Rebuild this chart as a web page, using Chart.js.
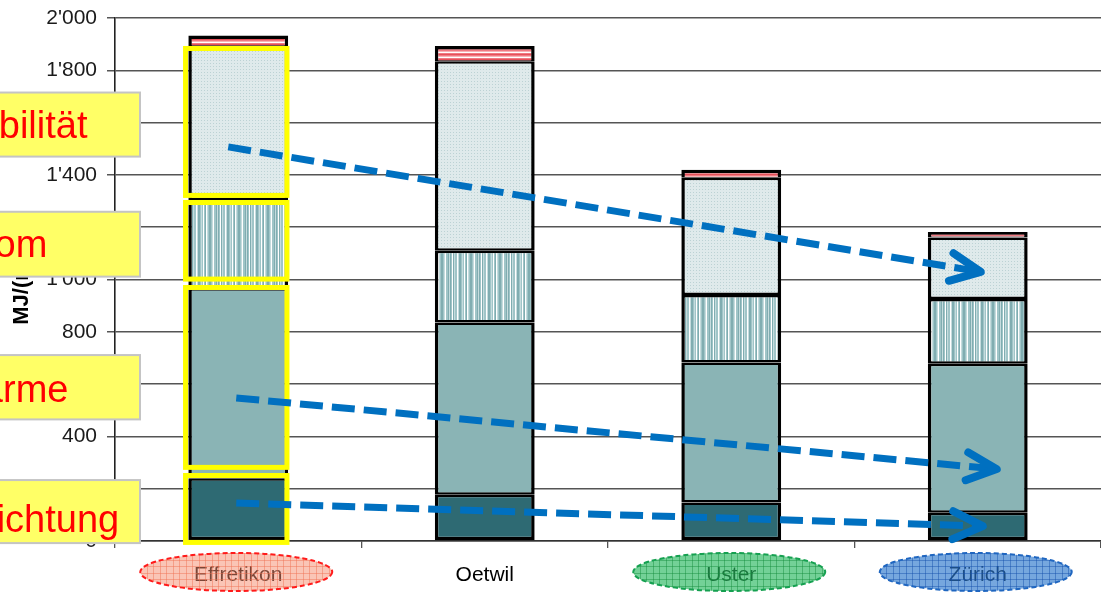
<!DOCTYPE html>
<html><head><meta charset="utf-8">
<script src="https://cdn.jsdelivr.net/npm/chart.js@4.4.1/dist/chart.umd.min.js"></script>
<style>html,body{margin:0;padding:0;background:#fff;overflow:hidden}#wrap{width:1101px;height:592px;position:relative}</style>
</head><body><div id="wrap"><canvas id="c" width="1101" height="592"></canvas></div>
<script>
// ---- data ----
const categories = ["Effretikon", "Oetwil", "Uster", "Zürich"];
const errichtung = [240, 177, 147, 108];
const waerme     = [727, 659, 536, 570];
const strom      = [337, 274, 258, 247];
const mobilitaet = [589, 725, 448, 236];
const uebrige    = [40, 58, 31, 21];
const seriesNames = ["Errichtung", "Wärme", "Strom", "Mobilität", "Übrige"];
const yTickLabels = ["0", "200", "400", "600", "800", "1'000", "1'200", "1'400", "1'600", "1'800", "2'000"];
const yAxisTitle = "MJ/(m²a)";
const calloutLabels = ["Mobilität", "Strom", "Wärme", "Errichtung"];

// ---- decoration config (value units) ----
const calloutBoxes = [ // [top, bottom, baseline]
  [1715, 1470, 1540], [1259, 1011, 1087], [711, 465, 533], [233, -8, 36]
];
const highlightBoxes = [[1893, 1312], [1304, 992], [979, 272], [260, -15]];
const trendArrows = [ // [catFrom, dxFrom, vFrom, catTo, dxTo, vTo]
  [0, -10, 1507, 3, 3, 1029],
  [0, -2, 547, 3, 19, 275],
  [0, -2, 145, 3, 5, 57]
];
const ellipseStyles = [
  {i: 0, fill: 'rgba(245,140,110,0.5)', grid: 'rgba(240,110,80,0.45)', stroke: '#ff1a1a'},
  {i: 2, fill: 'rgba(40,185,95,0.65)', grid: 'rgba(20,140,60,0.45)', stroke: '#15a050'},
  {i: 3, fill: 'rgba(45,120,205,0.65)', grid: 'rgba(20,80,170,0.45)', stroke: '#1f66c0'}
];

// ---- patterns ----
function mkPattern(w, h, draw) {
  const c = document.createElement('canvas'); c.width = w; c.height = h;
  const g = c.getContext('2d'); draw(g);
  return document.getElementById('c').getContext('2d').createPattern(c, 'repeat');
}
const stromPat = mkPattern(29, 4, g => {
  const cols = {w: '#ffffff', a: '#a0c5c8', b: '#80adb1', c: '#c5dcde'};
  const s = "wabwcabbacwaabcbawbcaawcbbaca";
  for (let i = 0; i < s.length; i++) { g.fillStyle = cols[s[i]]; g.fillRect(i, 0, 1, 4); }
});
const mobPat = mkPattern(3, 3, g => {
  g.fillStyle = '#dfeaeb'; g.fillRect(0, 0, 3, 3);
  g.fillStyle = '#bcd2d4'; g.fillRect(0, 0, 1, 1);
});
const redPat = mkPattern(4, 5, g => {
  const rows = ['#f07a82', '#f7b2b6', '#ffffff', '#f07a82', '#e6505a'];
  rows.forEach((c, i) => { g.fillStyle = c; g.fillRect(0, i, 4, 1); });
});

const deco = {
  id: 'deco',
  afterDraw(chart) {
    const ctx = chart.ctx, xs = chart.scales.x, ys = chart.scales.y, ca = chart.chartArea;
    const bw = chart.getDatasetMeta(0).data[0].width;
    const cx0 = xs.getPixelForValue(0);
    ctx.save();
    ctx.strokeStyle = '#ffff00'; ctx.lineWidth = 5;
    highlightBoxes.forEach(([t, b]) => {
      const y1 = ys.getPixelForValue(t) + 2.5, y2 = ys.getPixelForValue(b) - 2.5;
      const x1 = cx0 - bw / 2 - 2.8, x2 = cx0 + bw / 2 - 1.2;
      ctx.strokeRect(x1, y1, x2 - x1, y2 - y1);
    });
    ctx.restore();
    ctx.save();
    calloutBoxes.forEach(([t, b, bl], k) => {
      const y1 = ys.getPixelForValue(t), y2 = ys.getPixelForValue(b);
      const xr = ca.left + 25;
      ctx.fillStyle = '#ffff66'; ctx.fillRect(-20, y1, xr + 20, y2 - y1);
      ctx.strokeStyle = '#c4c4c4'; ctx.lineWidth = 2; ctx.strokeRect(-20, y1, xr + 20, y2 - y1);
      ctx.fillStyle = '#ff0000'; ctx.font = '38px "Liberation Sans", Arial, sans-serif';
      ctx.textAlign = 'left'; ctx.textBaseline = 'alphabetic';
      ctx.fillText(calloutLabels[k], ca.left - 169, ys.getPixelForValue(bl));
    });
    ctx.restore();
    ctx.save();
    ctx.strokeStyle = '#0070c0';
    trendArrows.forEach(([i0, dx0, v0, i1, dx1, v1]) => {
      const x0 = xs.getPixelForValue(i0) + dx0, y0 = ys.getPixelForValue(v0);
      const x1 = xs.getPixelForValue(i1) + dx1, y1 = ys.getPixelForValue(v1);
      const ang = Math.atan2(y1 - y0, x1 - x0);
      ctx.lineWidth = 7; ctx.lineCap = 'butt'; ctx.setLineDash([23, 9]);
      ctx.beginPath(); ctx.moveTo(x0, y0);
      ctx.lineTo(x1 - 8 * Math.cos(ang), y1 - 8 * Math.sin(ang)); ctx.stroke();
      ctx.setLineDash([]); ctx.lineWidth = 8; ctx.lineCap = 'round'; ctx.lineJoin = 'round';
      const L = 33, a = 25 * Math.PI / 180;
      ctx.beginPath();
      ctx.moveTo(x1 - L * Math.cos(ang - a), y1 - L * Math.sin(ang - a));
      ctx.lineTo(x1, y1);
      ctx.lineTo(x1 - L * Math.cos(ang + a), y1 - L * Math.sin(ang + a));
      ctx.stroke();
    });
    ctx.restore();
    ellipseStyles.forEach(s => {
      const cx = xs.getPixelForValue(s.i) - 2, cy = 572, rx = 96, ry = 19;
      ctx.save();
      ctx.beginPath(); ctx.ellipse(cx, cy, rx, ry, 0, 0, Math.PI * 2);
      ctx.fillStyle = s.fill; ctx.fill();
      ctx.save(); ctx.clip();
      ctx.strokeStyle = s.grid; ctx.lineWidth = 1;
      ctx.beginPath();
      for (let x = cx - rx; x <= cx + rx; x += 6.5) { ctx.moveTo(Math.round(x) + 0.5, cy - ry); ctx.lineTo(Math.round(x) + 0.5, cy + ry); }
      for (let y = cy - ry; y <= cy + ry; y += 6.5) { ctx.moveTo(cx - rx, Math.round(y) + 0.5); ctx.lineTo(cx + rx, Math.round(y) + 0.5); }
      ctx.stroke();
      ctx.restore();
      ctx.beginPath(); ctx.ellipse(cx, cy, rx, ry, 0, 0, Math.PI * 2);
      ctx.setLineDash([5, 3]); ctx.lineWidth = 2; ctx.strokeStyle = s.stroke; ctx.stroke();
      ctx.restore();
    });
  }
};

const fills = ['#2e6a73', '#8ab4b5', stromPat, mobPat, redPat];
const seriesData = [errichtung, waerme, strom, mobilitaet, uebrige];
const borders = [
  {top: 2.5, bottom: 3.5, left: 3.5, right: 3.5},
  {top: 2.5, bottom: 2.5, left: 3.5, right: 3.5},
  {top: 2.5, bottom: 2.5, left: 3.5, right: 3.5},
  {top: 2.5, bottom: 2.5, left: 3.5, right: 3.5},
  {top: 3.5, bottom: 0.8, left: 3.5, right: 3.5}
];

new Chart(document.getElementById('c'), {
  type: 'bar',
  data: {
    labels: categories,
    datasets: seriesData.map((d, i) => ({
      label: seriesNames[i], data: d, backgroundColor: fills[i],
      borderColor: '#000', borderWidth: borders[i], borderSkipped: false,
      categoryPercentage: 1, barPercentage: 0.405
    }))
  },
  options: {
    responsive: false, animation: false, devicePixelRatio: 1,
    layout: {padding: {top: 18, left: 0, right: 0, bottom: 0}},
    plugins: {legend: {display: false}, tooltip: {enabled: false}},
    scales: {
      x: {
        stacked: true, offset: true,
        grid: {offset: true, drawOnChartArea: false, drawTicks: true, tickLength: 7, color: '#555', lineWidth: 1.3},
        border: {color: '#333', width: 1.5},
        ticks: {font: {family: '"Liberation Sans", Arial', size: 21}, color: '#000', padding: 15},
        afterFit(s) { s.height = 51; s.paddingLeft = 0; s.paddingRight = 0; }
      },
      y: {
        stacked: true, min: 0, max: 2000,
        ticks: {stepSize: 200, callback: (v, i) => yTickLabels[i], font: {family: '"Liberation Sans", Arial', size: 21}, color: '#1a1a1a', padding: 10},
        grid: {color: '#555', lineWidth: 1.5, tickLength: 8},
        border: {color: '#222', width: 1.6},
        title: {display: true, text: yAxisTitle, font: {family: '"Liberation Sans", Arial', size: 22, weight: 'bold'}, color: '#000', padding: {top: 9, bottom: 0}},
        afterFit(s) { s.width = 115; s.paddingTop = 0; s.paddingBottom = 0; }
      }
    }
  },
  plugins: [deco]
});
</script></body></html>
